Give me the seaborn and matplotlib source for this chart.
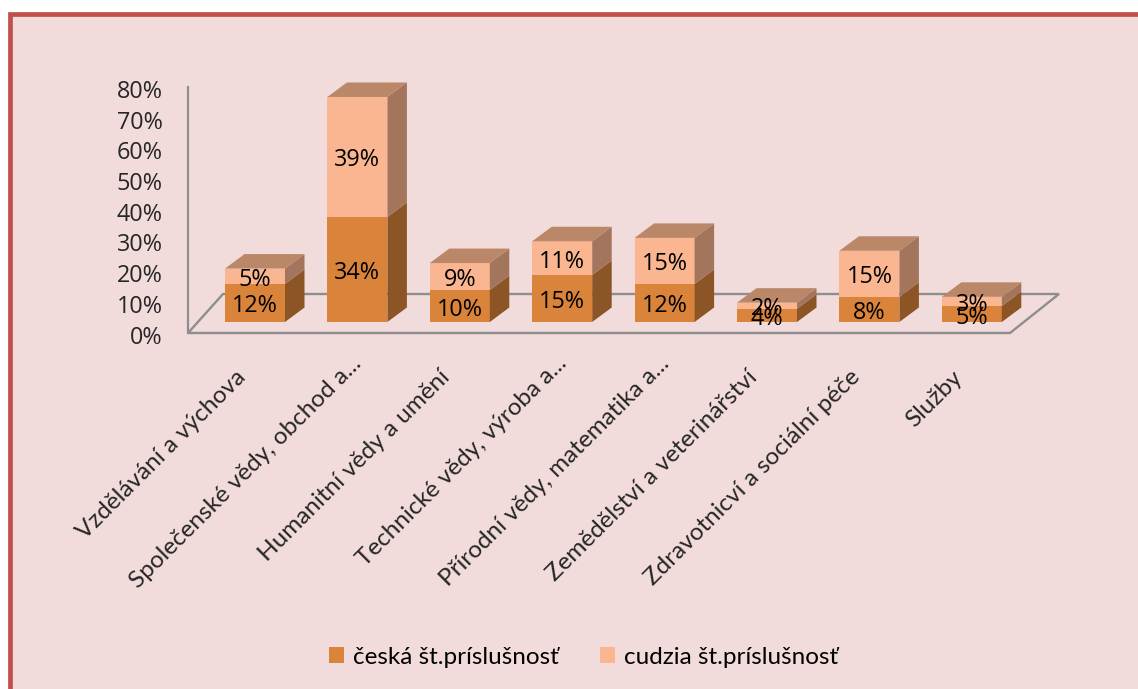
import matplotlib
matplotlib.use("Agg")
import matplotlib.pyplot as plt
import pandas as pd
import seaborn as sns
from matplotlib.patches import Polygon, Rectangle
from matplotlib.transforms import Affine2D

categories = ["Vzdělávání a výchova", "Společenské vědy, obchod a...", "Humanitní vědy a umění",
              "Technické vědy, výroba a...", "Přírodní vědy, matematika a...",
              "Zemědělství a veterinářství", "Zdravotnicví a sociální péče", "Služby"]
ceska = [12.4, 34.2, 10.4, 15.3, 12.4, 4.3, 8.2, 5.2]
cudzia = [5.0, 39.1, 8.8, 11.0, 15.0, 2.0, 15.0, 3.0]
series_names = ["česká št.príslušnosť", "cudzia št.príslušnosť"]
y_ticks = [0, 10, 20, 30, 40, 50, 60, 70, 80]

W, H = 1138, 689
ORANGE, ORANGE_SIDE = "#DA843B", "#8B5526"
PEACH, PEACH_SIDE, PEACH_TOP = "#FAB691", "#A3755C", "#BA8769"
BG, BORDER, GRID = "#F2DCDB", "#C0504D", "#8E8E8E"
FONT = "Lato"
NUM_FONT = "Open Sans"

sns.set_theme(style="white")
plt.rcParams["font.family"] = [FONT, "DejaVu Sans"]
plt.rcParams["text.color"] = "black"

fig = plt.figure(figsize=(W / 100, H / 100), dpi=100, facecolor="white")


def px_axes(x0, x1, y_top, y_bottom):
    return fig.add_axes([x0 / W, 1 - y_bottom / H, (x1 - x0) / W, (y_bottom - y_top) / H])


fig.add_artist(Rectangle((9.5 / W, -0.1), 1.2, 1.1 - 14 / H, transform=fig.transFigure,
                         facecolor=BG, edgecolor=BORDER, linewidth=3.4, zorder=-5))

# wall and floor
wall = px_axes(188, 1059, 87.4, 333)
wall.patch.set_alpha(0)
wall.set_xlim(0, 871)
wall.set_ylim(0, 80)
sns.despine(ax=wall, bottom=True, right=True, top=True)
wall.spines["left"].set_color(GRID)
wall.spines["left"].set_linewidth(1.6)
wall.set_yticks(y_ticks)
wall.set_yticklabels([f"{v}%" for v in y_ticks], fontsize=16.8, fontfamily=NUM_FONT)
wall.tick_params(axis="y", length=0, pad=18.2)
wall.set_xticks([])
for lab in wall.get_yticklabels():
    lab.set_transform(lab.get_transform() + Affine2D().translate(0, -1.5))
wall.add_patch(Polygon([(0, 0), (35, 12.7), (871, 12.7), (822, 0)], closed=True,
                       facecolor="none", edgecolor=GRID, linewidth=1.7, clip_on=False))

# bars
ax = px_axes(203.8, 1023, 76.4, 322)
ax.patch.set_alpha(0)
df = pd.DataFrame({"cat": categories, "a": ceska, "b": cudzia})
BW = 60 / 102.4
sns.barplot(data=df, x="cat", y="a", color=ORANGE, saturation=1, width=BW, ax=ax, linewidth=0)
sns.barplot(data=df, x="cat", y="b", bottom=df["a"], color=PEACH, saturation=1, width=BW, ax=ax, linewidth=0)
ax.set_xlim(-0.5, 7.5)
ax.set_ylim(0, 80)
ax.set_xlabel("")
ax.set_ylabel("")
ax.set_yticks([])
sns.despine(ax=ax, left=True, bottom=True)

dx, dy = 19.5 / 102.4, 14.5 / 3.07
for i, (a, b) in enumerate(zip(ceska, cudzia)):
    r = i + BW / 2
    t = a + b
    ax.add_patch(Polygon([(r, 0), (r + dx, dy), (r + dx, a + dy), (r, a)], facecolor=ORANGE_SIDE, edgecolor="none", clip_on=False))
    ax.add_patch(Polygon([(r, a), (r + dx, a + dy), (r + dx, t + dy), (r, t)], facecolor=PEACH_SIDE, edgecolor="none", clip_on=False))
    ax.add_patch(Polygon([(r - BW, t), (r - BW + dx, t + dy), (r + dx, t + dy), (r, t)], facecolor=PEACH_TOP, edgecolor="none", clip_on=False))
    for bottom, val in ((0, a), (a, b)):
        ax.annotate(f"{val:.0f}%", xy=(i, bottom + val / 2), xytext=(0, -3.5), textcoords="offset pixels",
                    ha="center", va="center", fontsize=16.8, fontfamily=NUM_FONT, color="black", zorder=5,
                    annotation_clip=False)

# category labels
ax.set_xticks(range(len(categories)))
ax.set_xticklabels(categories, rotation=45, ha="right", va="center", rotation_mode="anchor", fontsize=17.5)
ax.tick_params(axis="x", length=0, pad=28)
for lab, text in zip(ax.get_xticklabels(), categories):
    sx, sy = (1, 1) if text.endswith("...") else (-13, -13)
    lab.set_transform(lab.get_transform() + Affine2D().translate(sx, sy))

handles = [Rectangle((0, 0), 1, 1, facecolor=ORANGE, edgecolor="none"), Rectangle((0, 0), 1, 1, facecolor=PEACH, edgecolor="none")]
fig.legend(handles, series_names, loc="center", bbox_to_anchor=(583.5 / W, 1 - 657 / H), ncol=2, frameon=False,
           fontsize=17.5, handlelength=0.62, handleheight=0.62, handletextpad=0.35, columnspacing=1.72)

fig.savefig("out.png", dpi=100, facecolor="white")
